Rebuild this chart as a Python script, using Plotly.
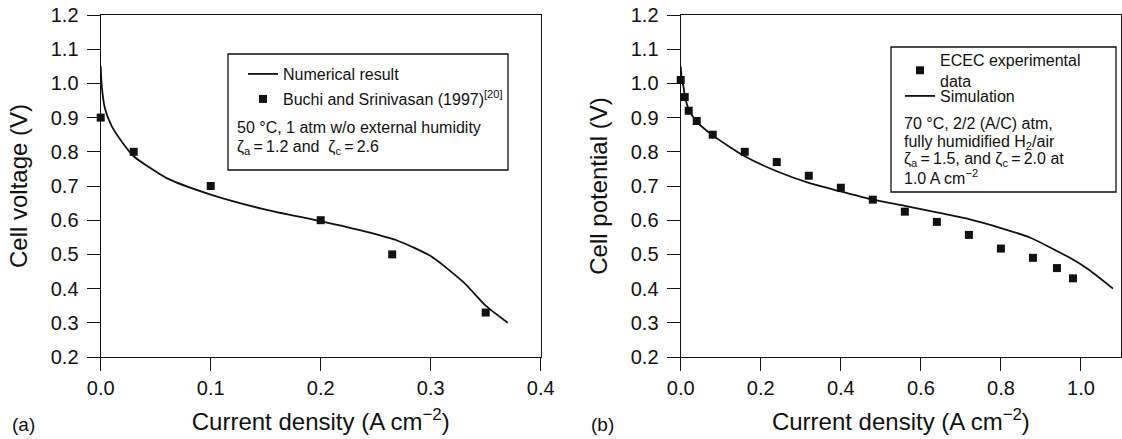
import plotly.graph_objects as go

# panel (a): model vs. Buchi and Srinivasan (1997)
a_model_j = [0.0, 0.001, 0.004, 0.01, 0.02, 0.03, 0.06, 0.10, 0.15, 0.20, 0.24, 0.27, 0.30, 0.33, 0.35, 0.37]
a_model_v = [1.05, 0.99, 0.925, 0.875, 0.826, 0.787, 0.723, 0.675, 0.631, 0.597, 0.567, 0.54, 0.495, 0.418, 0.35, 0.30]
a_exp_j = [0.0, 0.03, 0.10, 0.20, 0.265, 0.35]
a_exp_v = [0.90, 0.80, 0.70, 0.60, 0.50, 0.33]

# panel (b): ECEC data vs. simulation
b_exp_j = [0.0, 0.01, 0.02, 0.04, 0.08, 0.16, 0.24, 0.32, 0.40, 0.48, 0.56, 0.64, 0.72, 0.80, 0.88, 0.94, 0.98]
b_exp_v = [1.01, 0.96, 0.92, 0.89, 0.85, 0.80, 0.77, 0.73, 0.695, 0.66, 0.625, 0.595, 0.557, 0.517, 0.49, 0.46, 0.43]
b_sim_j = [0.0, 0.003, 0.007, 0.01, 0.02, 0.04, 0.08, 0.16, 0.24, 0.32, 0.40, 0.48, 0.56, 0.64, 0.72, 0.80, 0.875, 0.94, 0.98, 1.02, 1.05, 1.08]
b_sim_v = [1.05, 1.01, 0.99, 0.965, 0.925, 0.888, 0.848, 0.787, 0.743, 0.709, 0.684, 0.66, 0.642, 0.623, 0.603, 0.577, 0.548, 0.51, 0.485, 0.455, 0.428, 0.40]

a_xticks = [0.0, 0.1, 0.2, 0.3, 0.4]
b_xticks = [0.0, 0.2, 0.4, 0.6, 0.8, 1.0]
yticks = [0.2, 0.3, 0.4, 0.5, 0.6, 0.7, 0.8, 0.9, 1.0, 1.1, 1.2]

FONT = "Liberation Sans, Arial, Helvetica, sans-serif"
INK = "#111111"
W, H = 1122, 439
TOP, BOT = 15, 357  # plot area, pixels


def px_x(p):
    return p / W


def px_y(p):
    return (BOT - p) / (BOT - TOP)


fig = go.Figure()

fig.add_trace(go.Scatter(
    x=a_model_j, y=a_model_v, mode='lines', name='Numerical result',
    line=dict(color=INK, width=1.8, shape='spline', smoothing=0.6),
    xaxis='x', yaxis='y', legend='legend',
))
fig.add_trace(go.Scatter(
    x=a_exp_j, y=a_exp_v, mode='markers', name='Buchi and Srinivasan (1997)<sup>[20]</sup>',
    marker=dict(symbol='square', size=8, color=INK), cliponaxis=False,
    xaxis='x', yaxis='y', legend='legend2',
))
fig.add_trace(go.Scatter(
    x=b_exp_j, y=b_exp_v, mode='markers', name='ECEC experimental<br>data',
    marker=dict(symbol='square', size=8, color=INK), cliponaxis=False,
    xaxis='x2', yaxis='y2', legend='legend3',
))
fig.add_trace(go.Scatter(
    x=b_sim_j, y=b_sim_v, mode='lines', name='Simulation',
    line=dict(color=INK, width=1.8, shape='spline', smoothing=0.6),
    xaxis='x2', yaxis='y2', legend='legend4',
))

axis_base = dict(
    showline=True, linecolor=INK, linewidth=1.3, mirror=True,
    ticks='outside', ticklen=13, tickwidth=1.3, tickcolor=INK,
    showgrid=False, zeroline=False, tickformat='.1f',
    tickfont=dict(size=20, color=INK), automargin=False,
)
xtitle = dict(text='Current density (A cm<sup>−2</sup>)', font=dict(size=24, color=INK), standoff=15)

legend_base = dict(
    font=dict(size=16, color=INK, family=FONT), bgcolor='rgba(0,0,0,0)',
    borderwidth=0, xanchor='left', yanchor='top',
)

fig.update_layout(
    width=W, height=H,
    margin=dict(l=0, r=0, t=TOP, b=H - BOT),
    paper_bgcolor='white', plot_bgcolor='white',
    font=dict(family=FONT, color=INK),
    showlegend=True,
    xaxis=dict(**axis_base, domain=[px_x(100.7), px_x(540.7)], range=[0, 0.4],
               tickvals=a_xticks, title=xtitle, anchor='y', ticklabelstandoff=0),
    yaxis=dict(**axis_base, domain=[0, 1], range=[0.2, 1.2], tickvals=yticks, ticklabelstandoff=4,
               title=dict(text='Cell voltage (V)', font=dict(size=24, color=INK), standoff=16), anchor='x'),
    xaxis2=dict(**axis_base, domain=[px_x(680.7), px_x(1121)], range=[0, 1.1],
                tickvals=b_xticks, title=xtitle, anchor='y2', ticklabelstandoff=0),
    yaxis2=dict(**axis_base, domain=[0, 1], range=[0.2, 1.2], tickvals=yticks, ticklabelstandoff=4,
                title=dict(text='Cell potential (V)', font=dict(size=24, color=INK), standoff=16), anchor='x2'),
    legend=dict(**legend_base, x=px_x(243), y=px_y(57)),
    legend2=dict(**legend_base, x=px_x(243), y=px_y(82)),
    legend3=dict(**legend_base, x=px_x(900), y=px_y(43)),
    legend4=dict(**legend_base, x=px_x(900), y=px_y(79)),
)

box = dict(type='rect', xref='paper', yref='paper', line=dict(color=INK, width=1.3), fillcolor='rgba(0,0,0,0)')
fig.add_shape(**box, x0=px_x(228), x1=px_x(508), y0=px_y(170), y1=px_y(54))
fig.add_shape(**box, x0=px_x(891), x1=px_x(1116), y0=px_y(192), y1=px_y(47))

notes = [
    (235, 127, '50 °C, 1 atm w/o external humidity'),
    (235, 147, 'ζ<sub>a</sub>\u2009=\u20091.2 and  ζ<sub>c</sub>\u2009=\u20092.6'),
    (902, 123, '70 °C, 2/2 (A/C) atm,'),
    (902, 142, 'fully humidified H<sub>2</sub>/air'),
    (902, 160, 'ζ<sub>a</sub>\u2009=\u20091.5, and ζ<sub>c</sub>\u2009=\u20092.0 at'),
    (902, 177, '1.0 A cm<sup>−2</sup>'),
]
for x, y, t in notes:
    fig.add_annotation(text=t, x=px_x(x), y=px_y(y), xref='paper', yref='paper',
                       xanchor='left', yanchor='middle', showarrow=False,
                       font=dict(size=16, color=INK))

for x, t in [(10, '(a)'), (589, '(b)')]:
    fig.add_annotation(text=t, x=px_x(x), y=px_y(424), xref='paper', yref='paper',
                       xanchor='left', yanchor='middle', showarrow=False,
                       font=dict(size=19, color=INK))

# drop the page's default body margin so the figure sits at the window's corner
fig.write_html("out.html", config={'displayModeBar': False},
               post_script="document.body.style.margin='0';")
